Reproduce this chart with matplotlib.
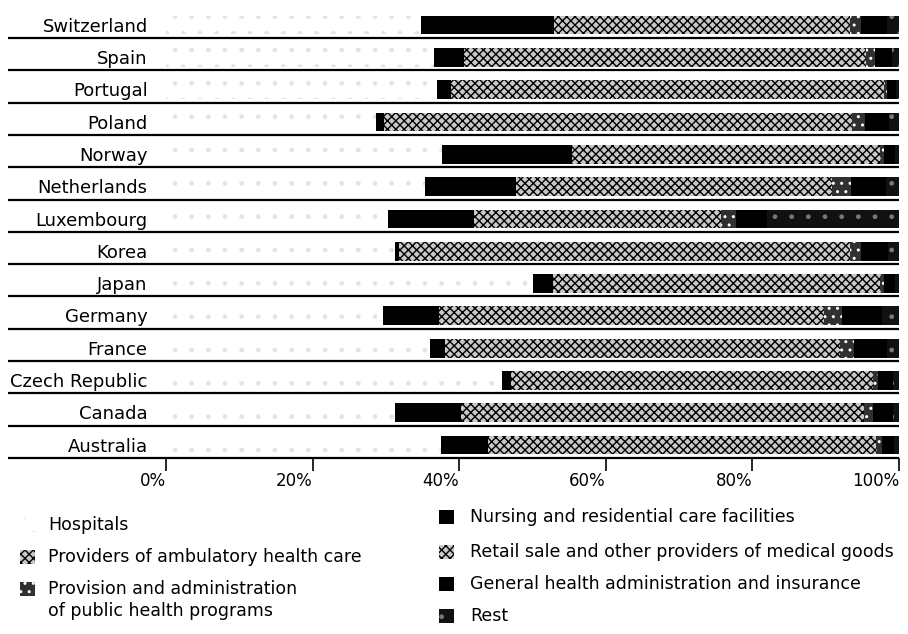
import numpy as np
import matplotlib
matplotlib.use('Agg')
import matplotlib.pyplot as plt
from matplotlib.patches import Rectangle

plt.rcParams['font.family'] = ['DejaVu Sans']
plt.rcParams['hatch.linewidth'] = 1.0

countries = ['Switzerland', 'Spain', 'Portugal', 'Poland', 'Norway', 'Netherlands',
             'Luxembourg', 'Korea', 'Japan', 'Germany', 'France', 'Czech Republic',
             'Canada', 'Australia']

# shares of current health expenditure by provider (%)
hospitals = [34.8, 36.5, 37.0, 28.6, 37.7, 35.3, 30.3, 31.3, 50.1, 29.6, 36.0, 45.8, 31.3, 37.5]
nursing = [18.2, 4.1, 1.9, 1.2, 17.7, 12.4, 11.7, 0.5, 2.7, 7.6, 2.0, 1.2, 9.0, 6.4]
ambulatory = [26.0, 33.0, 35.0, 36.0, 26.5, 27.0, 22.0, 38.0, 27.0, 31.0, 31.0, 28.0, 33.0, 33.0]
retail = [14.3, 21.9, 24.0, 27.8, 15.5, 16.2, 11.7, 23.5, 17.6, 21.5, 22.9, 21.4, 21.9, 20.0]
public_health = [1.5, 1.2, 0.5, 1.8, 0.6, 2.5, 2.0, 1.5, 0.5, 2.5, 2.0, 0.8, 1.2, 0.8]
administration = [3.5, 2.4, 1.2, 3.2, 1.4, 4.8, 4.3, 3.7, 1.5, 5.5, 4.5, 2.0, 2.8, 1.6]
rest = [1.7, 0.9, 0.4, 1.4, 0.6, 1.8, 18.0, 1.5, 0.6, 2.3, 1.6, 0.8, 0.8, 0.7]

tick_values = [0, 20, 40, 60, 80, 100]
tick_labels = ['0%', '20%', '40%', '60%', '80%', '100%']

# stacking order in the bars
series = [
    ('Hospitals', hospitals, 'white', '.', '#e4e4e4'),
    ('Nursing and residential care facilities', nursing, 'black', None, 'black'),
    ('Providers of ambulatory health care', ambulatory, '#c8c8c8', 'xxxx', 'black'),
    ('Retail sale and other providers of medical goods', retail, '#c8c8c8', '////\\\\\\\\', 'black'),
    ('Provision and administration\nof public health programs', public_health, '#303030', '..', 'white'),
    ('General health administration and insurance', administration, 'black', None, 'black'),
    ('Rest', rest, '#111111', '.', '#777777'),
]

fig = plt.figure(figsize=(9.08, 6.34), dpi=100)
ax = fig.add_axes([166 / 908, 1 - 458 / 634, 733 / 908, 453 / 634])

y = np.arange(len(countries))
left = np.zeros(len(countries))
styles = {}
for name, vals, face, hatch, hcol in series:
    vals = np.array(vals)
    ax.barh(y, vals, left=left, height=0.58, color=face, hatch=hatch,
            edgecolor=hcol, linewidth=0)
    styles[name] = (face, hatch, hcol)
    left += vals

ax.set_xlim(0, 100)
ax.set_ylim(13.40, -0.62)
ax.set_yticks([])
for s in ax.spines.values():
    s.set_visible(False)
ax.set_xticks(tick_values)
ax.set_xticklabels(tick_labels, ha='right')
ax.tick_params(axis='x', length=9, width=1.2, pad=1, labelsize=12)

# rule under every row, running out under the country names
trans = ax.get_yaxis_transform()
for yi, name in zip(y, countries):
    ax.plot([-0.216, 1.0], [yi + 0.40, yi + 0.40], transform=trans,
            color='black', lw=1.6, clip_on=False, solid_capstyle='butt')
    ax.text(-0.025, yi + 0.05, name, transform=trans, ha='right', va='center',
            fontsize=13)

# legend in two columns, drawn by hand
legend_left = ['Hospitals', 'Providers of ambulatory health care',
               'Provision and administration\nof public health programs']
legend_right = ['Nursing and residential care facilities',
                'Retail sale and other providers of medical goods',
                'General health administration and insurance', 'Rest']

W, H = 908, 634
def legend_item(name, x_icon, x_text, yc):
    face, hatch, hcol = styles[name]
    box = Rectangle((x_icon / W, 1 - (yc + 7) / H), 15 / W, 14 / H,
                    transform=fig.transFigure, facecolor=face, hatch=hatch,
                    edgecolor=hcol, linewidth=0)
    fig.patches.append(box)
    fig.text(x_text / W, 1 - yc / H, name.split('\n')[0], ha='left', va='center', fontsize=12.5)
    if '\n' in name:
        fig.text(x_text / W, 1 - (yc + 22) / H, name.split('\n')[1], ha='left',
                 va='center', fontsize=12.5)

for name, yc in zip(legend_left, [525, 557, 589]):
    legend_item(name, 20, 48, yc)
for name, yc in zip(legend_right, [517, 552, 584, 616]):
    legend_item(name, 439, 470, yc)

fig.savefig('out.png', dpi=100, facecolor='white')
